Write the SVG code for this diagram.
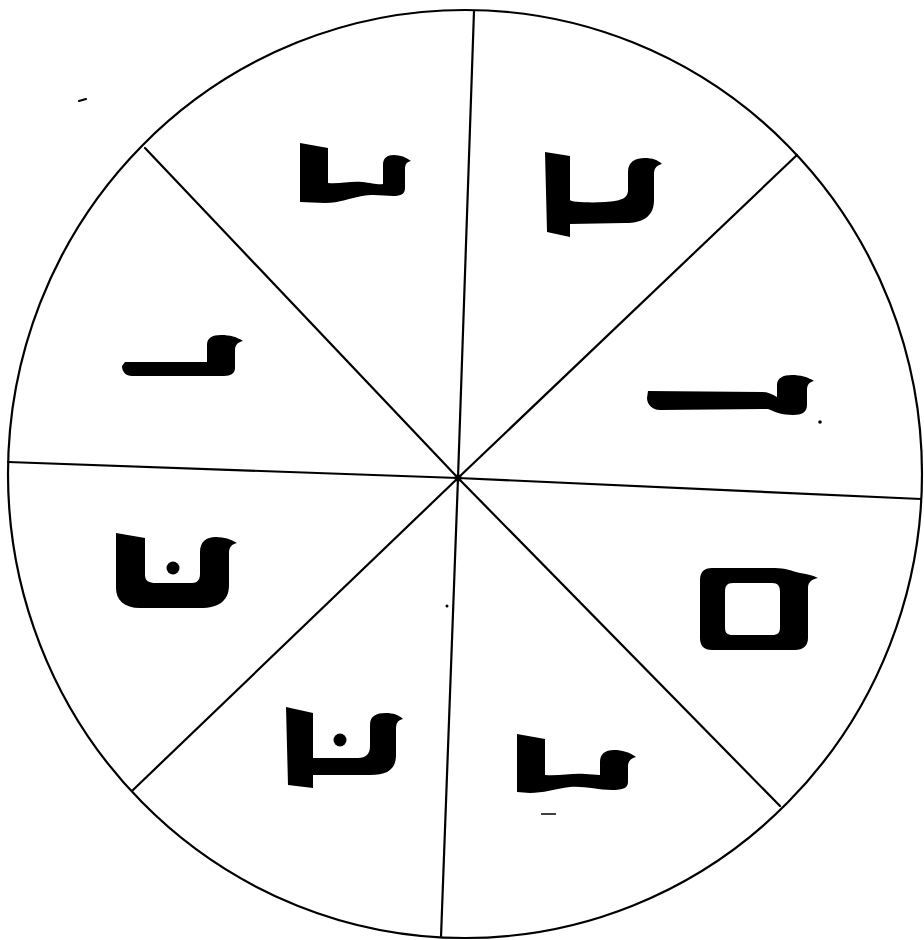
<svg xmlns="http://www.w3.org/2000/svg" width="924" height="940" viewBox="0 0 924 940">
<style>
.ln{stroke:#000;stroke-width:2.2;fill:none;stroke-linecap:round}
.gl{fill:#000;stroke:none}
</style>
<rect width="924" height="940" fill="#fff"/>
<g id="wheel">
<ellipse class="ln" cx="465" cy="474" rx="457" ry="464"/>
</g>
<g id="connectors">
<line class="ln" x1="458" y1="478" x2="474" y2="11"/>
<line class="ln" x1="458" y1="478" x2="441" y2="937"/>
<line class="ln" x1="458" y1="478" x2="8" y2="462"/>
<line class="ln" x1="458" y1="478" x2="921" y2="499"/>
<line class="ln" x1="458" y1="478" x2="145" y2="148"/>
<line class="ln" x1="458" y1="478" x2="797" y2="155"/>
<line class="ln" x1="458" y1="478" x2="133" y2="790"/>
<line class="ln" x1="458" y1="478" x2="780" y2="806"/>
<circle cx="458" cy="478" r="3.5" fill="#000"/>
</g>
<g id="g1"><path class="gl" d="M300,143 L328,148 L328,183 C340,184 350,181 362,182 C372,183 378,185 383,184 L383,165 C383,158 387,155 394,155 C400,155 406,157 411,161 C406,162 405,165 405,170 L405,188 C405,194 401,196 393,196 C384,196 375,194 362,196 C350,198 340,203 325,203 L300,202 Z"/></g>
<g id="g2"><path class="gl" d="M545,152 L570,156 L570,200 C570,202 590,203 605,202 C622,201 628,198 628,190 L628,172 C628,162 635,158 645,158 C652,158 658,160 662,164 C657,165 654,168 654,174 L654,200 C654,215 645,223 625,223 L570,224 L570,237 L547,232 Z"/></g>
<g id="g3"><path class="gl" d="M125,362 L207,362 L207,345 C207,338 212,335 221,335 C230,335 237,337 243,341 C238,342 235,345 235,350 L235,368 C235,373 231,376 224,376 L132,376 C126,376 122,372 122,366 Z"/></g>
<g id="g4"><path class="gl" d="M648,391 L762,392 C768,392 772,394 777,397 L777,385 C777,378 783,375 792,375 C800,375 808,377 814,381 C809,382 807,385 807,390 L807,405 C807,412 802,415 793,415 C782,415 775,412 768,409 L660,410 C652,410 647,404 647,398 Z"/></g>
<g id="g5"><path class="gl" d="M116,533 L145,538 L145,575 C145,581 149,583 156,583 L192,583 C197,583 200,580 200,574 L200,552 C200,542 206,537 216,537 C224,537 231,539 237,543 C232,544 229,547 229,553 L229,585 C229,600 220,608 200,608 L140,608 C124,608 116,600 116,588 Z"/><circle class="gl" cx="173" cy="568" r="6.5"/></g>
<g id="g6"><path class="gl" fill-rule="evenodd" d="M712,568 L775,568 C785,568 792,571 800,573 C806,574 812,575 818,578 C812,579 808,582 808,588 L808,638 C808,646 803,650 795,650 L712,650 C704,650 700,646 700,638 L700,580 C700,572 704,568 712,568 Z M733,583 C727,583 725,586 725,592 L725,627 C725,633 727,635 733,635 L772,635 C778,635 780,633 780,627 L780,592 C780,586 778,583 772,583 Z"/></g>
<g id="g7"><path class="gl" d="M286,707 L313,713 L313,758 L358,758 C366,758 370,754 370,746 L370,725 C370,716 376,713 386,713 C393,713 399,715 403,719 C398,720 396,723 396,729 L396,755 C396,769 388,775 370,775 L313,775 L313,788 L288,785 Z"/><circle class="gl" cx="340" cy="740" r="6.5"/></g>
<g id="g8"><path class="gl" d="M517,734 L545,739 L545,775 C560,776 572,773 585,774 L600,775 L600,762 C600,754 605,750 614,750 C622,750 629,752 636,757 C631,758 628,761 628,766 L628,782 C628,788 623,790 612,790 C598,790 585,786 570,787 C555,789 543,793 530,793 L517,792 Z"/></g>
<g id="marks">
<line class="ln" x1="79" y1="101" x2="86" y2="99"/>
<circle cx="820" cy="422" r="1.8" fill="#000"/>
<circle cx="447" cy="606" r="1.5" fill="#000"/>
<line x1="541" y1="814" x2="556" y2="814" stroke="#000" stroke-width="1.5"/>
</g>
</svg>
